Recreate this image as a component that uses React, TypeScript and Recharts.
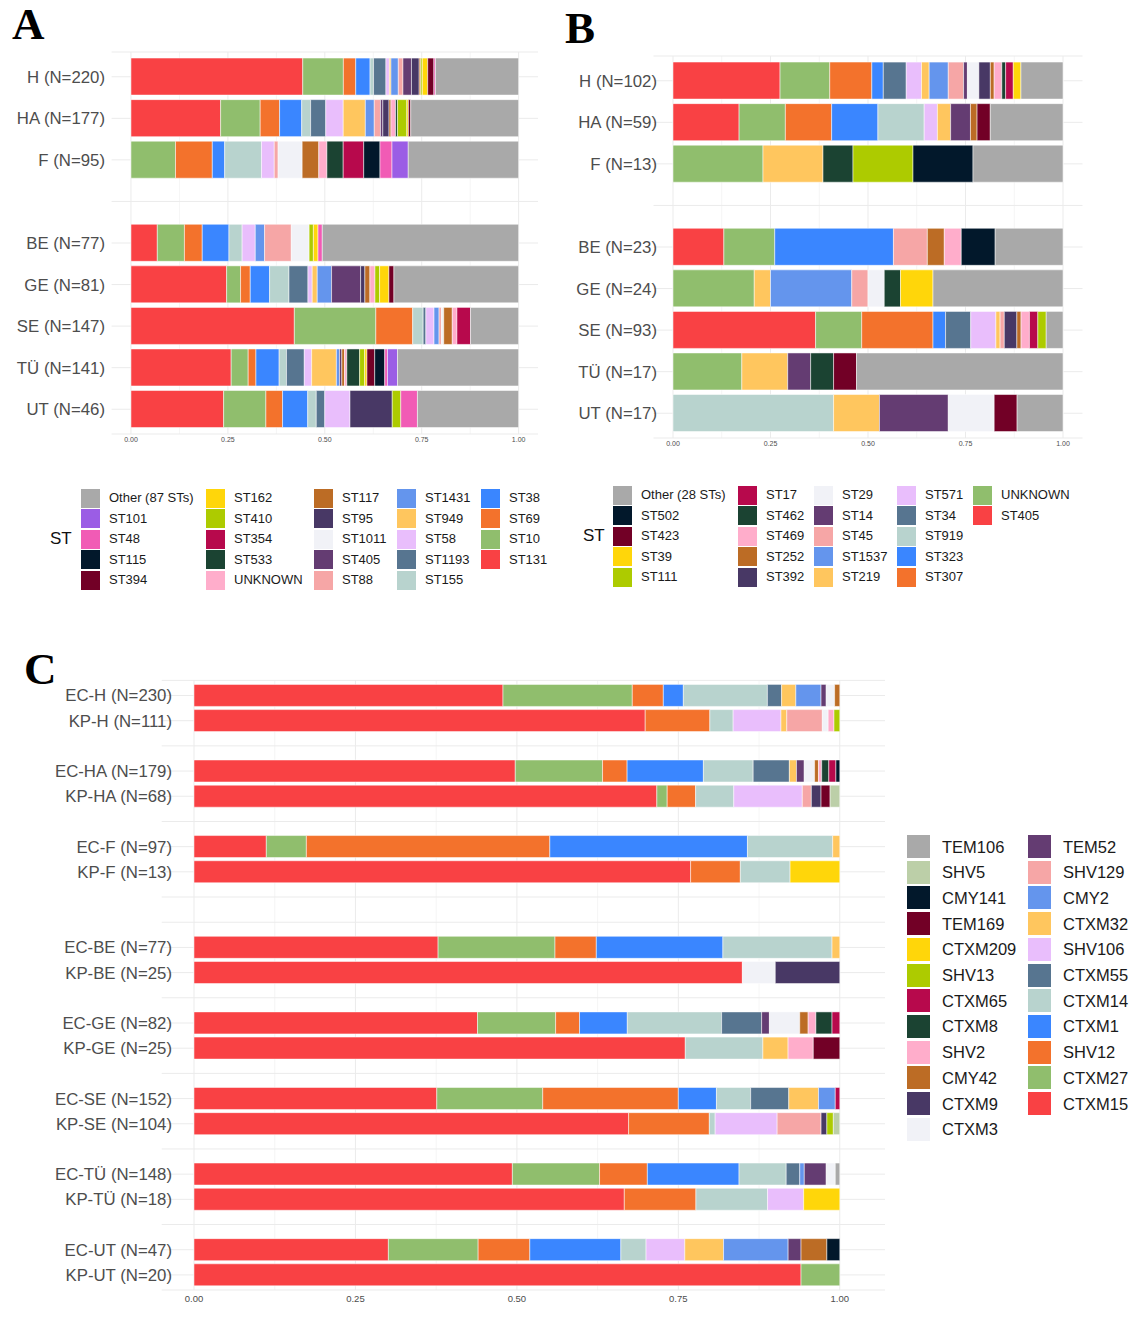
import React from 'react';
import { BarChart, Bar, XAxis, YAxis, CartesianGrid } from 'recharts';

const FONT = '"Liberation Sans", Arial, Helvetica, sans-serif';

// shared palette, in stacking order (left to right)
const RED = '#F94144';
const GREEN = '#90BE6D';
const ORANGE = '#F3722C';
const BLUE = '#3A86FF';
const TEAL = '#B8D3CE';
const SLATE = '#577590';
const LAVENDER = '#E9BEFC';
const SAND = '#FFC65E';
const CORNFLOWER = '#6495ED';
const SALMON = '#F6A6A6';
const PURPLE = '#643C72';
const OFFWHITE = '#F1F2F7';
const PLUM = '#483865';
const BROWN = '#BC6C25';
const PINK = '#FFADCB';
const FOREST = '#1B4332';
const CRIMSON = '#B7094C';
const LIME = '#ADCB00';
const YELLOW = '#FFD60A';
const MAROON = '#720026';
const NAVY = '#02182B';
const MAGENTA = '#F15BB5';
const VIOLET = '#9B5DE5';
const SAGE = '#BCCFA8';
const GREY = '#A9A9A9';

// ---------- panel A ----------
const ST_A = ['ST131', 'ST10', 'ST69', 'ST38', 'ST155', 'ST1193', 'ST58', 'ST949', 'ST1431', 'ST88', 'ST405', 'ST1011',
  'ST95', 'ST117', 'UNKNOWN', 'ST533', 'ST354', 'ST410', 'ST162', 'ST394', 'ST115', 'ST48', 'ST101', 'Other (87 STs)'];
const COLORS_A = [RED, GREEN, ORANGE, BLUE, TEAL, SLATE, LAVENDER, SAND, CORNFLOWER, SALMON, PURPLE, OFFWHITE,
  PLUM, BROWN, PINK, FOREST, CRIMSON, LIME, YELLOW, MAROON, NAVY, MAGENTA, VIOLET, GREY];
const ROWS_A = ['H (N=220)', 'HA (N=177)', 'F (N=95)', '', 'BE (N=77)', 'GE (N=81)', 'SE (N=147)', 'TÜ (N=141)', 'UT (N=46)'];

const A_H = [0.444, 0.105, 0.032, 0.037, 0.009, 0.032, 0.009, 0.004, 0.019, 0.012, 0.022, 0, 0.020, 0.004, 0, 0, 0, 0.004, 0.014, 0.016, 0, 0.004, 0, 0.215];
const A_HA = [0.231, 0.102, 0.050, 0.057, 0.023, 0.039, 0.045, 0.057, 0.023, 0.016, 0.006, 0, 0.016, 0.005, 0.012, 0.005, 0, 0.024, 0.004, 0.006, 0, 0, 0, 0.278];
const A_F = [0, 0.115, 0.095, 0.032, 0.095, 0, 0.033, 0, 0, 0.010, 0, 0.062, 0, 0.043, 0.021, 0.042, 0.053, 0, 0, 0, 0.042, 0.031, 0.042, 0.285];
const A_BE = [0.068, 0.070, 0.046, 0.069, 0.034, 0, 0.034, 0, 0.024, 0.069, 0, 0.046, 0, 0, 0, 0, 0, 0.011, 0.012, 0, 0, 0.011, 0, 0.507];
const A_GE = [0.247, 0.036, 0.025, 0.050, 0.050, 0.049, 0.011, 0.013, 0.037, 0, 0.075, 0, 0.011, 0.013, 0.013, 0, 0, 0.012, 0.024, 0.013, 0, 0, 0, 0.322];
const A_SE = [0.421, 0.210, 0.095, 0, 0.027, 0.007, 0.021, 0, 0.013, 0.006, 0, 0.006, 0, 0.022, 0.012, 0, 0.035, 0, 0, 0, 0, 0, 0, 0.124];
const A_TU = [0.259, 0.044, 0.020, 0.060, 0.019, 0.046, 0.019, 0.064, 0.008, 0, 0.006, 0, 0, 0.007, 0.006, 0.033, 0, 0.013, 0.006, 0.020, 0.026, 0.007, 0.026, 0.313];
const A_UT = [0.239, 0.109, 0.043, 0.065, 0.022, 0.022, 0.065, 0, 0, 0, 0, 0, 0.109, 0, 0, 0, 0, 0.022, 0, 0, 0, 0.043, 0, 0.261];
const VALUES_A = [A_H, A_HA, A_F, null, A_BE, A_GE, A_SE, A_TU, A_UT];

// ---------- panel B (isolate counts) ----------
const ST_B = ['ST405', 'UNKNOWN', 'ST307', 'ST323', 'ST919', 'ST34', 'ST571', 'ST219', 'ST1537', 'ST45', 'ST14', 'ST29',
  'ST392', 'ST252', 'ST469', 'ST462', 'ST17', 'ST111', 'ST39', 'ST423', 'ST502', 'Other (28 STs)'];
const COLORS_B = [RED, GREEN, ORANGE, BLUE, TEAL, SLATE, LAVENDER, SAND, CORNFLOWER, SALMON, PURPLE, OFFWHITE,
  PLUM, BROWN, PINK, FOREST, CRIMSON, LIME, YELLOW, MAROON, NAVY, GREY];
const ROWS_B = ['H (N=102)', 'HA (N=59)', 'F (N=13)', '', 'BE (N=23)', 'GE (N=24)', 'SE (N=93)', 'TÜ (N=17)', 'UT (N=17)'];

const B_H = [28, 13, 11, 3, 0, 6, 4, 2, 5, 4, 1, 3, 3, 1, 2, 1, 2, 0, 2, 0, 0, 11];
const B_HA = [10, 7, 7, 7, 7, 0, 2, 2, 0, 0, 3, 0, 0, 1, 0, 0, 0, 0, 0, 2, 0, 11];
const B_F = [0, 3, 0, 0, 0, 0, 0, 2, 0, 0, 0, 0, 0, 0, 0, 1, 0, 2, 0, 0, 2, 3];
const B_BE = [3, 3, 0, 7, 0, 0, 0, 0, 0, 2, 0, 0, 0, 1, 1, 0, 0, 0, 0, 0, 2, 4];
const B_GE = [0, 5, 0, 0, 0, 0, 0, 1, 5, 1, 0, 1, 0, 0, 0, 1, 0, 0, 2, 0, 0, 8];
const B_SE = [34, 11, 17, 3, 0, 6, 6, 1, 0, 1, 0, 0, 3, 1, 2, 0, 2, 2, 0, 0, 0, 4];
const B_TU = [0, 3, 0, 0, 0, 0, 0, 2, 0, 0, 1, 0, 0, 0, 0, 1, 0, 0, 0, 1, 0, 9];
const B_UT = [0, 0, 0, 0, 7, 0, 0, 2, 0, 0, 3, 2, 0, 0, 0, 0, 0, 0, 0, 1, 0, 2];
const VALUES_B = [B_H, B_HA, B_F, null, B_BE, B_GE, B_SE, B_TU, B_UT];

// ---------- panel C (genes) ----------
const GENES = ['CTXM15', 'CTXM27', 'SHV12', 'CTXM1', 'CTXM14', 'CTXM55', 'SHV106', 'CTXM32', 'CMY2', 'SHV129', 'TEM52', 'CTXM3',
  'CTXM9', 'CMY42', 'SHV2', 'CTXM8', 'CTXM65', 'SHV13', 'CTXM209', 'TEM169', 'CMY141', 'SHV5', 'TEM106'];
const COLORS_C = [RED, GREEN, ORANGE, BLUE, TEAL, SLATE, LAVENDER, SAND, CORNFLOWER, SALMON, PURPLE, OFFWHITE,
  PLUM, BROWN, PINK, FOREST, CRIMSON, LIME, YELLOW, MAROON, NAVY, SAGE, GREY];
const ROWS_C = ['EC-H (N=230)', 'KP-H (N=111)', '', 'EC-HA (N=179)', 'KP-HA (N=68)', '', 'EC-F (N=97)', 'KP-F (N=13)', '', '',
  'EC-BE (N=77)', 'KP-BE (N=25)', '', 'EC-GE (N=82)', 'KP-GE (N=25)', '', 'EC-SE (N=152)', 'KP-SE (N=104)', '',
  'EC-TÜ (N=148)', 'KP-TÜ (N=18)', '', 'EC-UT (N=47)', 'KP-UT (N=20)'];

const EC_H = [0.478, 0.200, 0.048, 0.031, 0.130, 0.022, 0, 0.022, 0.039, 0, 0.008, 0.013, 0, 0.008, 0, 0, 0, 0, 0, 0, 0, 0, 0];
const KP_H = [0.698, 0, 0.100, 0, 0.036, 0, 0.074, 0.009, 0, 0.055, 0, 0.009, 0, 0, 0.009, 0, 0, 0.009, 0, 0, 0, 0, 0];
const EC_HA = [0.497, 0.135, 0.038, 0.118, 0.077, 0.056, 0, 0.011, 0, 0, 0.012, 0.016, 0, 0.006, 0.005, 0.011, 0.011, 0, 0, 0, 0.006, 0, 0];
const KP_HA = [0.716, 0.016, 0.044, 0, 0.059, 0, 0.106, 0, 0, 0.014, 0, 0, 0.015, 0, 0, 0, 0, 0, 0, 0.014, 0, 0.015, 0];
const EC_F = [0.112, 0.062, 0.377, 0.306, 0.132, 0, 0, 0.011, 0, 0, 0, 0, 0, 0, 0, 0, 0, 0, 0, 0, 0, 0, 0];
const KP_F = [0.769, 0, 0.077, 0, 0.077, 0, 0, 0, 0, 0, 0, 0, 0, 0, 0, 0, 0, 0, 0.077, 0, 0, 0, 0];
const EC_BE = [0.378, 0.181, 0.064, 0.196, 0.169, 0, 0, 0.012, 0, 0, 0, 0, 0, 0, 0, 0, 0, 0, 0, 0, 0, 0, 0];
const KP_BE = [0.850, 0, 0, 0, 0, 0, 0, 0, 0, 0, 0, 0.051, 0.100, 0, 0, 0, 0, 0, 0, 0, 0, 0, 0];
const EC_GE = [0.439, 0.121, 0.037, 0.074, 0.146, 0.062, 0, 0, 0, 0, 0.012, 0.047, 0, 0.013, 0.012, 0.025, 0.012, 0, 0, 0, 0, 0, 0];
const KP_GE = [0.760, 0, 0, 0, 0.120, 0, 0, 0.039, 0, 0, 0, 0, 0, 0, 0.039, 0, 0, 0, 0, 0.041, 0, 0, 0];
const EC_SE = [0.376, 0.164, 0.210, 0.059, 0.053, 0.059, 0, 0.046, 0.026, 0, 0, 0, 0, 0, 0, 0, 0.007, 0, 0, 0, 0, 0, 0];
const KP_SE = [0.673, 0, 0.125, 0, 0.009, 0, 0.096, 0, 0, 0.068, 0, 0, 0.009, 0, 0, 0, 0, 0.010, 0, 0, 0, 0.010, 0];
const EC_TU = [0.493, 0.135, 0.074, 0.142, 0.073, 0.021, 0, 0, 0.007, 0, 0.034, 0.014, 0, 0, 0, 0, 0, 0, 0, 0, 0, 0, 0.007];
const KP_TU = [0.667, 0, 0.111, 0, 0.111, 0, 0.056, 0, 0, 0, 0, 0, 0, 0, 0, 0, 0, 0, 0.056, 0, 0, 0, 0];
const EC_UT = [0.301, 0.139, 0.080, 0.141, 0.039, 0, 0.060, 0.060, 0.100, 0, 0.020, 0, 0, 0.040, 0, 0, 0, 0, 0, 0, 0.020, 0, 0];
const KP_UT = [0.940, 0.060, 0, 0, 0, 0, 0, 0, 0, 0, 0, 0, 0, 0, 0, 0, 0, 0, 0, 0, 0, 0, 0];
const VALUES_C = [EC_H, KP_H, null, EC_HA, KP_HA, null, EC_F, KP_F, null, null, EC_BE, KP_BE, null,
  EC_GE, KP_GE, null, EC_SE, KP_SE, null, EC_TU, KP_TU, null, EC_UT, KP_UT];

const MINOR = [0.125, 0.375, 0.625, 0.875];
const MAJOR = [0, 0.25, 0.5, 0.75, 1];

// turn each row into proportions so every bar spans 0..1
function toRows(values: (number[] | null)[], cats: string[]) {
  return values.map((vals, i) => {
    const row: Record<string, number> = { row: i };
    const total = vals ? vals.reduce((a, b) => a + b, 0) : 0;
    cats.forEach((c, j) => {
      row[c] = vals && total ? vals[j] / total : 0;
    });
    return row;
  });
}

type PanelProps = {
  left: number; top: number; width: number; height: number;
  margin: { top: number; right: number; bottom: number; left: number };
  yWidth: number; labelMargin: number; labels: string[];
  values: (number[] | null)[]; cats: string[]; colors: string[];
  domain: [number, number]; gap: string; labelSize: number;
  tickSize: number; tickGap: number; xHeight: number; pad: number;
};

function Panel(p: PanelProps) {
  const data = toRows(p.values, p.cats);
  return (
    <div style={{ position: 'absolute', left: p.left, top: p.top }}>
      <BarChart width={p.width} height={p.height} data={data} layout="vertical" margin={p.margin} barCategoryGap={p.gap}>
        <CartesianGrid horizontal={false} verticalValues={MINOR} stroke="#f3f3f3" strokeWidth={0.8} />
        <CartesianGrid verticalValues={MAJOR} stroke="#ebebeb" strokeWidth={1} />
        <XAxis
          type="number"
          domain={p.domain}
          ticks={MAJOR}
          interval={0}
          tickFormatter={(v: number) => v.toFixed(2)}
          axisLine={false}
          tickLine={false}
          tickSize={0}
          tickMargin={p.tickGap}
          height={p.xHeight}
          tick={{ fontSize: p.tickSize, fill: '#4d4d4d', fontFamily: FONT }}
        />
        <YAxis
          type="category"
          dataKey="row"
          width={p.yWidth}
          axisLine={false}
          tickLine={false}
          tickSize={0}
          tickMargin={p.labelMargin}
          interval={0}
          padding={{ top: p.pad, bottom: p.pad }}
          tickFormatter={(i: number) => p.labels[i]}
          tick={{ fontSize: p.labelSize, fill: '#4d4d4d', fontFamily: FONT }}
        />
        {p.cats.map((c, j) => (
          <Bar key={c} dataKey={c} stackId="st" fill={p.colors[j]} stroke="#ffffff" strokeWidth={0.5} isAnimationActive={false} />
        ))}
      </BarChart>
    </div>
  );
}

type KeyProps = {
  names: string[]; colors: string[]; rows: number; colX: number[];
  y0: number; dy: number; sw: number; labelDx: number; fontSize: number;
  title?: string; titleX?: number;
};

// ggplot-style legend: reversed stack order, filled column by column
function Key(k: KeyProps) {
  const names = [...k.names].reverse();
  const colors = [...k.colors].reverse();
  return (
    <>
      {k.title && (
        <div style={{ position: 'absolute', left: k.titleX, top: k.y0 + 2 * k.dy - 10, fontSize: 17, lineHeight: '20px', color: '#111', fontFamily: FONT }}>
          {k.title}
        </div>
      )}
      {names.map((n, i) => {
        const col = Math.floor(i / k.rows);
        const r = i % k.rows;
        const cy = k.y0 + r * k.dy;
        return (
          <React.Fragment key={n}>
            <div style={{ position: 'absolute', left: k.colX[col], top: cy - k.sw / 2, width: k.sw, height: k.sw, background: colors[i] }} />
            <div style={{ position: 'absolute', left: k.colX[col] + k.labelDx, top: cy - 10, lineHeight: '20px', fontSize: k.fontSize, color: '#1a1a1a', fontFamily: FONT, whiteSpace: 'nowrap' }}>
              {n}
            </div>
          </React.Fragment>
        );
      })}
    </>
  );
}

const letterStyle: React.CSSProperties = {
  position: 'absolute', fontFamily: '"Liberation Serif", "Times New Roman", serif', fontWeight: 700, fontSize: 45, lineHeight: 1, color: '#000',
};

export default function App() {
  return (
    <div style={{ position: 'absolute', left: 0, top: 0, width: 1133, height: 1340, background: '#fff', overflow: 'hidden' }}>
      <div style={{ ...letterStyle, left: 12, top: 2 }}>A</div>
      <div style={{ ...letterStyle, left: 565, top: 6 }}>B</div>
      <div style={{ ...letterStyle, left: 24, top: 647 }}>C</div>

      <Panel
        left={0} top={0} width={545} height={456}
        margin={{ top: 52, right: 7, bottom: 0, left: 0 }}
        yWidth={111.6} labelMargin={6.6} labels={ROWS_A}
        values={VALUES_A} cats={ST_A} colors={COLORS_A}
        domain={[-0.05, 1.05]} gap="5%" labelSize={16.8}
        tickSize={7} tickGap={3} xHeight={22} pad={4}
      />
      <Panel
        left={560} top={0} width={530} height={460}
        margin={{ top: 56, right: 7.5, bottom: 0, left: 0 }}
        yWidth={93.5} labelMargin={-3.5} labels={ROWS_B}
        values={VALUES_B} cats={ST_B} colors={COLORS_B}
        domain={[-0.05, 1.05]} gap="5%" labelSize={16.8}
        tickSize={7} tickGap={3} xHeight={22} pad={4}
      />
      <Panel
        left={0} top={660} width={900} height={655}
        margin={{ top: 20.4, right: 15, bottom: 0, left: 0 }}
        yWidth={161.7} labelMargin={-10.3} labels={ROWS_C}
        values={VALUES_C} cats={GENES} colors={COLORS_C}
        domain={[-0.05, 1.07]} gap="6%" labelSize={16.8}
        tickSize={9.5} tickGap={5} xHeight={25} pad={2.5}
      />

      <Key names={ST_A} colors={COLORS_A} rows={5} colX={[81, 206, 314, 397, 481]}
        y0={498} dy={20.5} sw={19} labelDx={28} fontSize={13} title="ST" titleX={50} />
      <Key names={ST_B} colors={COLORS_B} rows={5} colX={[613, 738, 814, 897, 973]}
        y0={495} dy={20.5} sw={19} labelDx={28} fontSize={13} title="ST" titleX={583} />
      <Key names={GENES} colors={COLORS_C} rows={12} colX={[907, 1028]}
        y0={846.5} dy={25.7} sw={23} labelDx={35} fontSize={16.5} />
    </div>
  );
}
